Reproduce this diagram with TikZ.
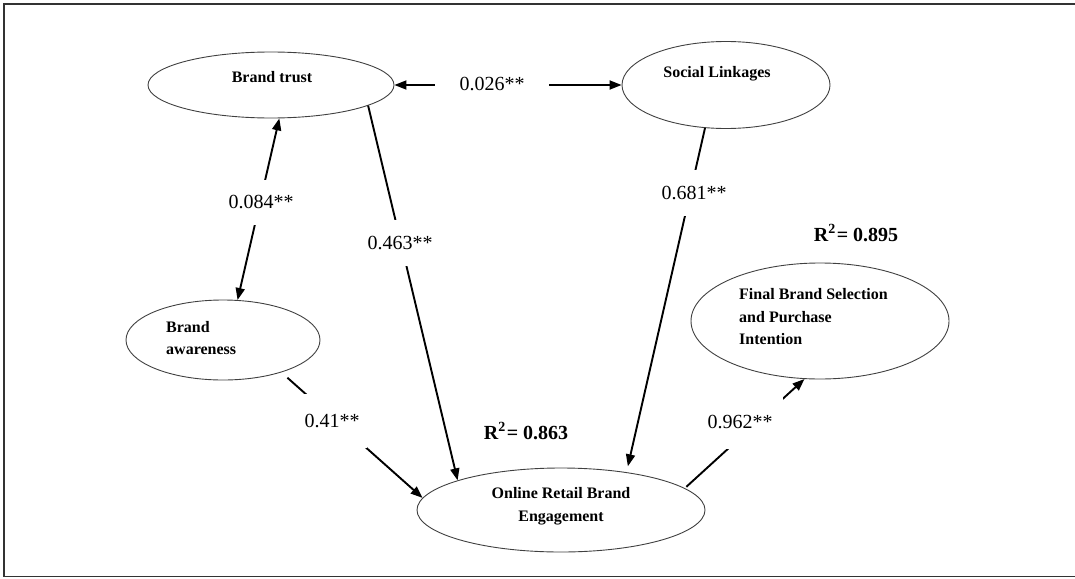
\documentclass[tikz,border=0pt]{standalone}
\usepackage{fontspec}
\setmainfont{Liberation Serif}
\usetikzlibrary{arrows.meta, shapes.geometric}
\tikzset{
  construct/.style={ellipse, draw=black!75, line width=0.9pt, inner sep=0pt},
  ctext/.style={font=\fontsize{16}{22.5}\selectfont\bfseries, inner sep=0pt},
  coef/.style={fill=white, inner sep=0pt, font=\fontsize{20}{24}\selectfont},
  rsq/.style={font=\fontsize{20}{24}\selectfont\bfseries, inner sep=0pt},
  effect/.style={line width=1.9pt, -{Triangle[length=12pt,width=9pt]}},
  mutual/.style={line width=1.9pt, {Triangle[length=12pt,width=9pt]}-{Triangle[length=12pt,width=9pt]}}
}
\begin{document}
\begin{tikzpicture}[x=1pt, y=-1pt]
\useasboundingbox (0,0) rectangle (1075,578);
% Frame
\draw[line width=1.4pt, black!80] (1075,4) -- (4,4) -- (4,576.5) -- (1075,576.5);
% Constructs
\node[construct, minimum width=246pt, minimum height=66pt] (trust) at (271,85) {};
\node[construct, minimum width=208pt, minimum height=87pt] (social) at (726,85) {};
\node[construct, minimum width=194pt, minimum height=80pt] (aware) at (223,340) {};
\node[construct, minimum width=288pt, minimum height=84pt] (engage) at (561,510) {};
\node[construct, minimum width=258pt, minimum height=116pt] (final) at (820,321) {};
% Construct names
\node[ctext] (trust-txt) at (272,77) {Brand trust};
\node[ctext] (social-txt) at (717,74) {Social Linkages};
\node[ctext, align=left, anchor=west] (aware-txt) at (166,338) {Brand\\awareness};
\node[ctext, align=center] (engage-txt) at (561,506) {Online Retail Brand\\Engagement};
\node[ctext, align=left, anchor=west] (final-txt) at (739,317) {Final Brand Selection\\and Purchase\\Intention};
% R squared
\node[rsq] (r-engage) at (526,431) {R\textsuperscript{2}\kern1pt= 0.863};
\node[rsq] (r-final) at (856,233) {R\textsuperscript{2}\kern1pt= 0.895};
% Paths
\draw[mutual] (trust.east) -- (social.west);
\draw[mutual] (aware.70) -- (trust.-76);
\draw[effect] (trust.-12) -- (engage.164);
\draw[effect, shorten >=6pt] (social.-116) -- (engage.30);
\draw[effect, shorten <=8pt] (aware.-29) -- (engage.175);
\draw[effect, shorten <=2pt] (engage.10) -- (final.-105);
% Path coefficients
\node[coef, minimum width=114pt, minimum height=22pt] (c-social) at (492,84) {0.026**};
\node[coef, minimum width=70pt, minimum height=45pt] (c-aware) at (261,202) {0.084**};
\node[coef, minimum width=70pt, minimum height=46pt] (c-trust) at (400,243) {0.463**};
\node[coef, minimum width=70pt, minimum height=46pt] (c-link) at (694,193) {0.681**};
\node[coef, minimum width=70pt, minimum height=54pt] (c-aware2) at (332,421) {0.41**};
\node[coef, minimum width=86pt, minimum height=54pt] (c-engage) at (740,422) {0.962**};
\end{tikzpicture}
\end{document}
